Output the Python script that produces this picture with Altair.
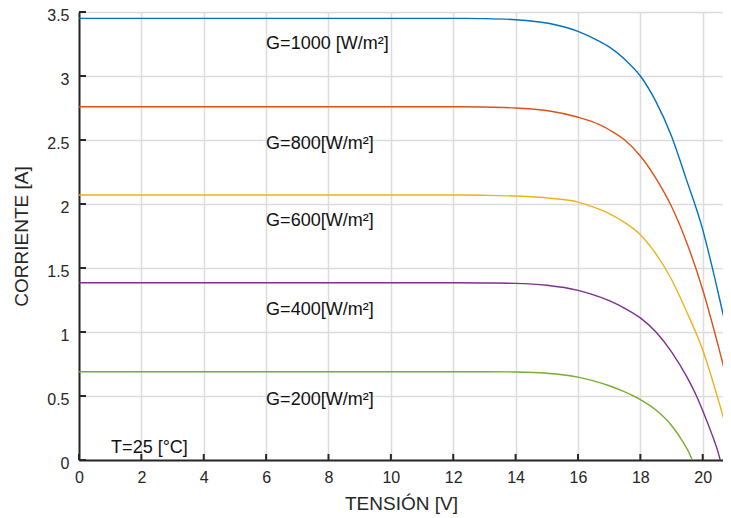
import altair as alt
import pandas as pd

# ---- data ----
series = ["G=1000", "G=800", "G=600", "G=400", "G=200"]
colors = ["#0072BD", "#D95319", "#EDB120", "#7E2F8E", "#77AC30"]

v_1000 = [0, 6, 12, 13, 14, 15.09, 15.98, 16.69, 17.0, 17.5, 18.0, 18.5, 19.0, 19.45, 20.0, 20.28, 20.68, 20.9]
i_1000 = [3.45, 3.45, 3.45, 3.448, 3.44, 3.41, 3.35, 3.27, 3.227, 3.13, 3.0, 2.80, 2.53, 2.21, 1.80, 1.53, 1.11, 0.88]

v_800 = [0, 6, 12, 13, 14, 15.09, 15.98, 16.69, 17.0, 17.5, 18.0, 18.5, 19.0, 19.5, 20.0, 20.5, 20.9]
i_800 = [2.76, 2.76, 2.76, 2.758, 2.75, 2.727, 2.68, 2.62, 2.58, 2.50, 2.375, 2.20, 1.98, 1.69, 1.33, 0.89, 0.51]

v_600 = [0, 6, 12, 13, 14, 15.09, 16.0, 16.5, 17.0, 17.5, 18.0, 18.5, 19.0, 19.5, 20.0, 20.44, 20.86, 20.9]
i_600 = [2.07, 2.07, 2.07, 2.068, 2.062, 2.045, 2.015, 1.975, 1.925, 1.855, 1.76, 1.61, 1.41, 1.15, 0.86, 0.52, 0.156, 0.12]

v_400 = [0, 6, 12, 13, 14, 15.0, 16.0, 16.5, 17.0, 17.5, 18.0, 18.5, 19.0, 19.5, 19.8, 20.0, 20.28, 20.54, 20.56]
i_400 = [1.385, 1.385, 1.385, 1.383, 1.38, 1.365, 1.325, 1.29, 1.245, 1.185, 1.11, 1.00, 0.845, 0.645, 0.50, 0.385, 0.21, 0.02, 0.0]

v_200 = [0, 6, 12, 13, 14, 15.0, 16.0, 16.5, 17.0, 17.5, 18.0, 18.5, 19.0, 19.37, 19.63, 19.66]
i_200 = [0.69, 0.69, 0.69, 0.69, 0.688, 0.678, 0.647, 0.618, 0.58, 0.532, 0.472, 0.39, 0.27, 0.14, 0.02, 0.0]

lab_text = ["G=1000 [W/m²]", "G=800[W/m²]", "G=600[W/m²]", "G=400[W/m²]", "G=200[W/m²]", "T=25 [°C]"]
lab_v = [6.0, 6.0, 6.0, 6.0, 6.0, 1.03]
lab_i = [3.21, 2.43, 1.83, 1.13, 0.43, 0.052]

x_ticks = [0, 2, 4, 6, 8, 10, 12, 14, 16, 18, 20]
y_ticks = [0, 0.5, 1, 1.5, 2, 2.5, 3, 3.5]

# ---- tables ----
rows = []
for name, vs, cs in zip(series, [v_1000, v_800, v_600, v_400, v_200],
                        [i_1000, i_800, i_600, i_400, i_200]):
    for v, c in zip(vs, cs):
        rows.append({"G": name, "V": v, "I": c})
df = pd.DataFrame(rows)
df_lab = pd.DataFrame({"txt": lab_text, "V": lab_v, "I": lab_i})
df_xt = pd.DataFrame({"V": x_ticks})
df_yt = pd.DataFrame({"I": y_ticks})

xscale = alt.Scale(domain=[0, 20.65], nice=False, zero=False)
yscale = alt.Scale(domain=[0, 3.5], nice=False)
x_axis = alt.Axis(values=x_ticks, title="TENSIÓN [V]", labelFlush=False,
                  labelPadding=9, titlePadding=9, labelOverlap=False)
y_axis = alt.Axis(values=y_ticks, title="CORRIENTE [A]", labelPadding=10,
                  titlePadding=15, labelOffset=3,
                  labelExpr="'' + datum.value", labelOverlap=False)

X = alt.X("V:Q", scale=xscale, axis=x_axis)
Y = alt.Y("I:Q", scale=yscale, axis=y_axis)

lines = alt.Chart(df).mark_line(strokeWidth=1.4, interpolate="monotone", clip=True).encode(
    x=X, y=Y,
    color=alt.Color("G:N", scale=alt.Scale(domain=series, range=colors), legend=None),
)

labels = alt.Chart(df_lab).mark_text(
    align="left", baseline="alphabetic", fontSize=18, font="Liberation Sans", color="#111111"
).encode(x=X, y=Y, text="txt:N")

xticks = alt.Chart(df_xt).mark_rule(color="#262626", strokeWidth=2).encode(
    x=X, y=alt.value(448), y2=alt.value(442)
)
yticks = alt.Chart(df_yt).mark_rule(color="#262626", strokeWidth=2).encode(
    y=Y, x=alt.value(0), x2=alt.value(7)
)

chart = alt.layer(lines, labels, xticks, yticks).properties(
    width=644, height=448,
    padding={"left": 71, "top": 4, "right": 0, "bottom": 54},
    autosize=alt.AutoSizeParams(type="none"),
).configure_axis(
    domainColor="#262626", domainWidth=2, gridColor="#dcdcdc", gridWidth=1.5,
    ticks=False, labelColor="#262626", labelFont="Liberation Sans", labelFontSize=16,
    titleColor="#262626", titleFont="Liberation Sans", titleFontSize=19,
    titleFontWeight="normal",
).configure_view(stroke=None)

chart.save("out.html", embed_options={"renderer": "svg", "actions": False})
